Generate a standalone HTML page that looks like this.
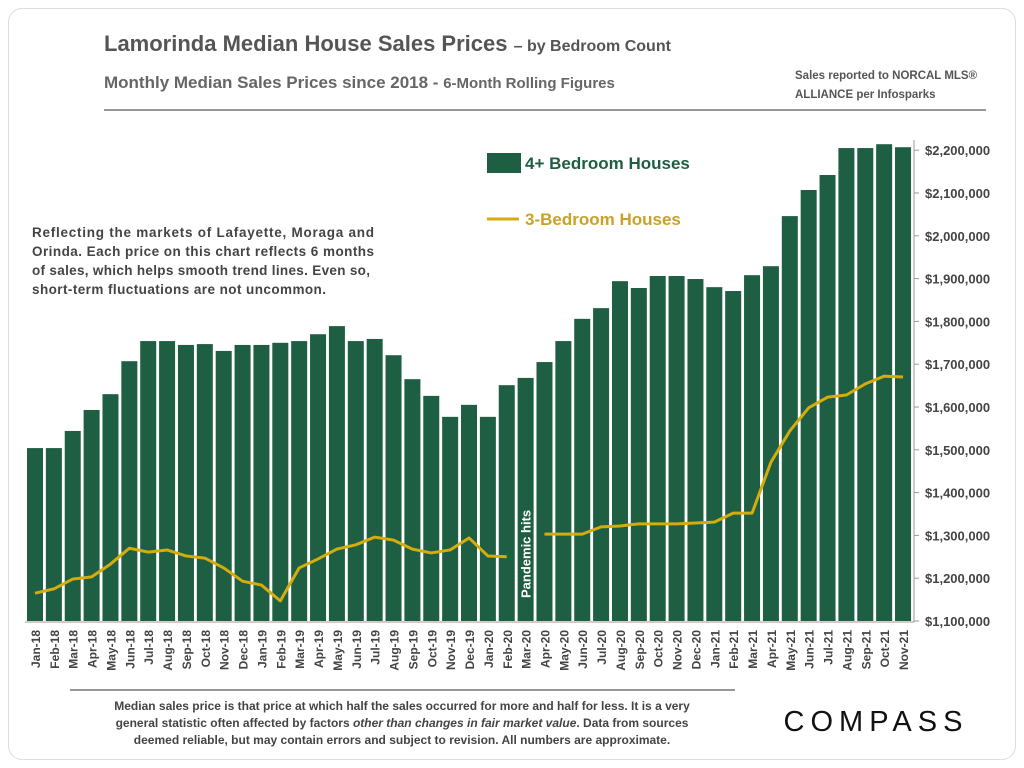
<!DOCTYPE html>
<html><head><meta charset="utf-8"><style>
body{margin:0;background:#fff;font-family:"Liberation Sans",sans-serif;}
#frame{position:absolute;left:8px;top:8px;width:1006px;height:750px;border:1px solid #ddd;border-radius:14px;}
</style></head><body>
<div id="frame"></div>
<svg id="c" width="1024" height="768" style="position:absolute;left:0;top:0">
<text x="104" y="51" font-size="22" font-weight="bold" fill="#555">Lamorinda Median House Sales Prices <tspan font-size="16">– by Bedroom Count</tspan></text>
<text x="104" y="88" font-size="17" font-weight="bold" fill="#666">Monthly Median Sales Prices since 2018 - <tspan font-size="15">6-Month Rolling Figures</tspan></text>
<text x="795" y="79" font-size="11.5" font-weight="bold" fill="#555">Sales reported to NORCAL MLS®</text>
<text x="795" y="98" font-size="11.5" font-weight="bold" fill="#555">ALLIANCE per Infosparks</text>
<line x1="104" y1="110" x2="986" y2="110" stroke="#777" stroke-width="1.5"/>
<g font-size="13.5" font-weight="bold" fill="#444">
<text x="32" y="237" textLength="342">Reflecting the markets of Lafayette, Moraga and</text>
<text x="32" y="256" textLength="342">Orinda. Each price on this chart reflects 6 months</text>
<text x="32" y="275" textLength="338">of sales, which helps smooth trend lines. Even so,</text>
<text x="32" y="294" textLength="294">short-term fluctuations are not uncommon.</text>
</g>
<rect x="487" y="153" width="34" height="20" fill="#1e5e42"/>
<text x="525" y="169" font-size="17" font-weight="bold" fill="#1e5e42">4+ Bedroom Houses</text>
<line x1="487" y1="219" x2="519" y2="219" stroke="#d4ac0d" stroke-width="3"/>
<text x="525" y="225" font-size="17" font-weight="bold" fill="#c9a227">3-Bedroom Houses</text>
<g id="bars"></g><g id="line"></g><g id="xt"></g><g id="yt"></g>
<line x1="70" y1="690" x2="735" y2="690" stroke="#777" stroke-width="1.5"/>
<g font-size="12" font-weight="bold" fill="#444" text-anchor="middle">
<text x="402" y="710">Median sales price is that price at which half the sales occurred for more and half for less. It is a very</text>
<text x="402" y="727">general statistic often affected by factors <tspan font-style="italic">other than changes in fair market value</tspan>. Data from sources</text>
<text x="402" y="744">deemed reliable, but may contain errors and subject to revision. All numbers are approximate.</text>
</g>
<text x="876" y="731" font-size="29" text-anchor="middle" letter-spacing="6" fill="#111">COMPASS</text>
</svg>
<script>
const months=["Jan-18","Feb-18","Mar-18","Apr-18","May-18","Jun-18","Jul-18","Aug-18","Sep-18","Oct-18","Nov-18","Dec-18","Jan-19","Feb-19","Mar-19","Apr-19","May-19","Jun-19","Jul-19","Aug-19","Sep-19","Oct-19","Nov-19","Dec-19","Jan-20","Feb-20","Mar-20","Apr-20","May-20","Jun-20","Jul-20","Aug-20","Sep-20","Oct-20","Nov-20","Dec-20","Jan-21","Feb-21","Mar-21","Apr-21","May-21","Jun-21","Jul-21","Aug-21","Sep-21","Oct-21","Nov-21"];
const fourBed=[1504,1504,1544,1593,1630,1707,1754,1754,1745,1747,1731,1745,1745,1750,1754,1770,1789,1754,1759,1721,1665,1626,1577,1605,1577,1651,1668,1705,1754,1806,1831,1894,1878,1906,1906,1899,1880,1871,1908,1929,2046,2107,2142,2205,2205,2214,2207];
const threeBed=[1165,1175,1198,1203,1233,1270,1261,1266,1252,1247,1224,1193,1184,1147,1224,1245,1268,1278,1296,1289,1268,1259,1266,1294,1252,1250,null,1303,1303,1303,1320,1322,1327,1327,1327,1329,1331,1352,1352,1471,1544,1598,1623,1628,1654,1672,1670];
const yTicks=[1100,1200,1300,1400,1500,1600,1700,1800,1900,2000,2100,2200];
const NS="http://www.w3.org/2000/svg";
const y=v=>621-(v-1100)*42.8/100;
const x=i=>35+i*18.87;
function mk(t,a,p){const e=document.createElementNS(NS,t);for(const k in a)e.setAttribute(k,a[k]);p.appendChild(e);return e;}
const B=document.getElementById('bars'),L=document.getElementById('line'),XT=document.getElementById('xt'),YT=document.getElementById('yt');
fourBed.forEach((v,i)=>{const r=mk('rect',{x:x(i)-8,y:y(v),width:16,height:621-y(v),fill:'#1e5e42'},B);

});
let segs=[],cur=[];threeBed.forEach((v,i)=>{if(v==null){if(cur.length)segs.push(cur);cur=[];}else cur.push(x(i)+','+y(v));});segs.push(cur);
segs.forEach((s,k)=>{const p=mk('polyline',{points:s.join(' '),fill:'none',stroke:'#d4ac0d','stroke-width':3,'stroke-linejoin':'round'},L);

});
const ph=mk('text',{x:0,y:0,transform:`translate(${x(26)+5},598) rotate(-90)`,'font-size':13,'font-weight':'bold',fill:'#fff'},L);ph.textContent='Pandemic hits';


mk('line',{x1:25,y1:622,x2:914,y2:622,stroke:'#999'},XT);
mk('line',{x1:914,y1:140,x2:914,y2:622,stroke:'#999'},YT);
months.forEach((m,i)=>{const t=mk('text',{x:0,y:0,transform:`translate(${x(i)+5},630) rotate(-90)`,'text-anchor':'end','font-size':12,'font-weight':'bold',fill:'#444'},XT);t.textContent=m;

});
yTicks.forEach(v=>{mk('line',{x1:914,y1:y(v),x2:919,y2:y(v),stroke:'#999'},YT);
const t=mk('text',{x:925,y:y(v)+5,'font-size':13,'font-weight':'bold',fill:'#444'},YT);t.textContent='$'+(v*1000).toLocaleString('en-US');

});
</script>
</body></html>
